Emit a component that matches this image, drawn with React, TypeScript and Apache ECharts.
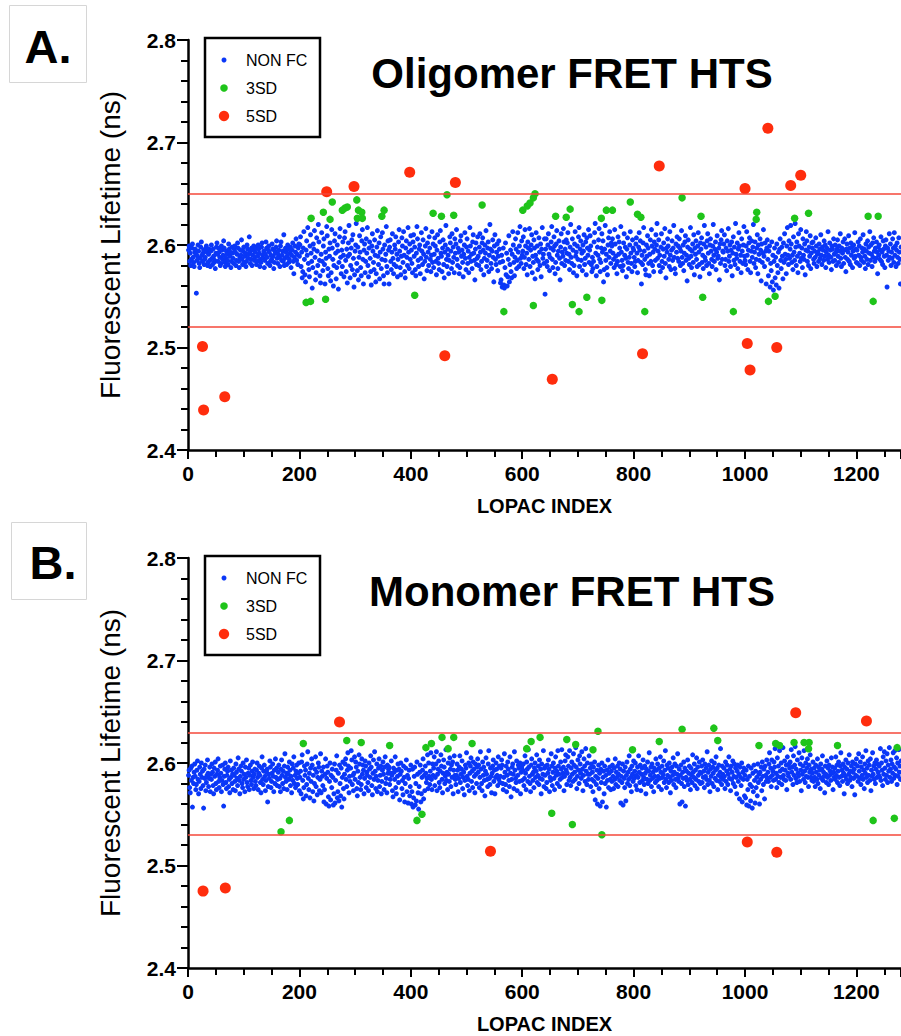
import React, { useEffect, useRef } from "react";
import * as echarts from "echarts";

const FONT = "'Liberation Sans', Arial, Helvetica, sans-serif";

// Axis settings (values)
const xMin = 0;
const xMax = 1280;
const xInterval = 200;
const yMin = 2.4;
const yMax = 2.8;
const yInterval = 0.1;

// NON FC lifetimes, in thousandths of a ns above 2.5 (index = position + 1)
const blueA: number[] = [
  95,99,84,92,80,86,97,101,88,83,79,93,96,91,53,85,89,100,94,82,78,87,98,103,90,84,92,95,81,86,88,97,99,93,80,83,91,96,85,79,
  94,100,87,81,96,89,83,85,77,92,98,102,91,84,97,93,88,80,82,99,95,86,90,104,97,83,79,87,94,91,85,81,101,96,89,93,78,84,98,92,
  87,82,96,99,93,80,85,91,102,97,84,78,88,95,90,105,86,81,94,98,83,89,92,79,84,100,96,87,91,108,93,82,86,97,80,90,95,99,85,88,
  93,97,81,84,89,100,96,92,79,86,83,98,102,90,87,94,78,85,91,103,97,88,82,95,99,93,80,84,90,86,101,96,89,77,83,94,92,98,104,87,
  82,91,95,88,79,99,103,85,90,94,84,110,80,87,97,93,81,89,100,96,83,86,92,98,78,90,95,102,84,72,88,99,93,106,85,91,81,97,101,89,
  100,108,79,93,68,74,97,113,86,71,64,95,104,90,117,82,76,69,99,110,92,84,58,78,101,96,114,88,66,73,107,94,80,120,103,85,70,63,91,112,
  84,75,99,106,81,62,93,87,118,109,77,70,96,89,102,65,73,115,97,86,60,80,104,111,92,67,78,100,94,57,83,108,116,88,72,95,79,103,90,69,
  107,113,85,74,96,63,89,102,119,91,68,80,97,105,76,110,87,59,71,94,100,121,82,75,98,66,88,109,93,78,70,104,115,86,62,95,101,73,84,106,
  92,117,80,69,97,103,87,74,61,99,111,94,83,76,105,90,64,72,98,114,89,81,102,67,93,108,77,86,112,96,70,62,100,85,91,118,79,73,104,95,
  62,98,105,84,76,93,111,87,72,81,100,96,108,79,91,69,86,103,115,94,78,71,89,107,99,83,113,90,74,68,97,104,88,80,117,93,77,101,86,109,
  95,82,73,103,110,89,98,76,70,92,118,106,85,79,96,100,72,87,112,94,81,105,91,67,84,99,116,88,75,102,93,80,108,97,86,74,90,113,83,101,
  78,91,107,99,84,71,95,110,87,82,76,103,114,92,89,74,97,105,81,68,93,100,119,86,79,96,90,72,85,108,102,94,77,111,83,98,88,73,106,92,
  101,115,86,80,97,93,72,78,104,109,89,95,83,69,91,100,112,87,76,98,106,82,94,73,88,117,99,84,91,77,103,110,92,85,66,96,102,81,87,108,
  89,80,98,111,93,76,84,102,107,95,71,87,100,92,114,79,85,97,103,74,90,120,96,82,77,94,105,88,64,99,110,86,81,93,101,75,89,104,96,83,
  63,66,90,59,84,97,61,58,78,102,71,92,60,69,86,109,64,81,95,74,68,91,113,100,83,70,88,106,96,77,85,112,93,79,99,118,87,82,104,90,
  94,108,77,88,115,99,81,92,71,103,97,86,116,79,95,100,110,73,89,83,105,97,67,90,112,86,99,76,84,107,93,80,101,69,96,117,87,91,82,106,
  52,96,106,84,79,100,111,91,75,88,97,103,118,86,78,95,108,99,72,83,101,114,90,77,94,104,87,66,98,111,82,93,89,116,103,80,96,85,105,92,
  102,112,84,91,76,98,120,88,82,106,95,73,80,101,113,89,93,70,99,86,108,117,79,96,104,85,92,75,100,94,110,81,87,103,71,107,97,90,115,83,
  95,109,99,81,74,88,77,84,103,112,121,92,70,79,98,90,105,116,86,74,83,97,111,93,104,64,76,96,119,85,91,78,71,100,107,88,113,94,82,102,
  99,106,92,86,78,115,101,89,81,72,84,108,91,103,97,79,118,93,85,75,80,102,111,90,98,87,69,96,107,83,77,88,100,113,92,82,74,105,97,95,
  88,79,84,101,107,92,73,85,98,112,95,104,83,62,90,81,102,117,94,86,76,71,100,89,109,97,82,70,91,105,84,115,99,80,93,74,103,96,85,110,
  100,121,87,94,105,80,90,74,98,111,84,78,96,102,89,116,82,68,97,93,106,99,86,79,113,90,76,95,104,85,97,119,88,77,72,101,93,108,87,99,
  84,106,97,80,94,114,88,82,100,75,92,103,109,85,90,65,98,105,87,81,96,117,89,78,94,101,83,110,71,97,91,104,86,79,99,112,93,81,69,102,
  96,107,83,90,77,101,119,88,85,98,80,104,111,92,82,72,100,106,94,86,79,99,120,90,84,96,103,76,93,109,87,89,97,66,101,82,105,114,86,94,
  93,101,110,80,86,97,75,104,94,116,84,89,100,79,95,103,70,92,108,85,98,81,121,91,87,102,77,96,112,99,84,90,73,106,94,82,100,118,89,85,
  81,99,113,90,76,95,102,107,84,73,94,104,88,98,120,82,93,103,78,86,97,110,72,100,91,85,106,95,65,101,83,92,115,89,79,102,94,62,97,105,
  86,70,94,99,59,82,75,103,64,90,56,84,97,68,88,61,101,80,73,93,58,96,106,85,77,98,89,67,102,83,111,91,86,72,99,117,90,81,104,87,
  96,119,101,83,90,76,108,93,85,121,98,80,103,89,73,111,99,92,84,115,87,97,78,106,90,86,101,71,95,113,104,84,94,80,98,89,109,77,92,102,
  97,103,86,82,94,88,107,99,79,91,93,84,101,96,87,110,90,81,98,95,85,104,89,100,78,93,97,86,113,90,83,102,95,88,76,99,96,84,106,91,
  85,100,93,80,96,105,89,83,99,94,111,87,79,97,92,103,82,95,106,88,74,96,101,86,93,109,84,97,81,102,90,98,78,94,100,87,112,89,96,83,
  95,82,103,90,99,80,106,88,85,97,93,110,83,96,89,77,101,94,86,104,81,98,92,113,85,100,91,79,102,88,107,94,84,97,87,103,93,72,98,90,
  100,86,95,108,84,93,81,104,96,89,78,99,105,90,59,97,85,94,111,88,101,80,93,87,106,97,83,112,90,99,79,95,102,88,82,107,93,86,62,98,
];

const greenA: [number, number][] = [
  [212, 2.544], [220, 2.545], [221, 2.626], [243, 2.632], [247, 2.547], [255, 2.625], [259, 2.642],
  [277, 2.634], [282, 2.636], [286, 2.637], [303, 2.644], [304, 2.626], [306, 2.634], [312, 2.632],
  [313, 2.626], [348, 2.628], [352, 2.634], [407, 2.551], [440, 2.631], [455, 2.628], [465, 2.649],
  [477, 2.629], [528, 2.639], [567, 2.535], [601, 2.634], [609, 2.638], [614, 2.641], [620, 2.646],
  [620, 2.541], [623, 2.65], [660, 2.628], [679, 2.627], [686, 2.635], [690, 2.542], [702, 2.535],
  [716, 2.549], [742, 2.626], [743, 2.546], [751, 2.634], [762, 2.634], [794, 2.642], [807, 2.63],
  [813, 2.627], [820, 2.535], [887, 2.646], [921, 2.628], [924, 2.549], [979, 2.535], [1020, 2.625],
  [1021, 2.632], [1042, 2.545], [1054, 2.55], [1089, 2.626], [1114, 2.631], [1221, 2.628],
  [1230, 2.545], [1239, 2.628],
];

const redA: [number, number][] = [
  [26, 2.501], [28, 2.439], [66, 2.452], [249, 2.652], [298, 2.657], [398, 2.671], [461, 2.492],
  [480, 2.661], [654, 2.469], [816, 2.494], [846, 2.677], [1000, 2.655], [1004, 2.504],
  [1009, 2.478], [1041, 2.714], [1057, 2.5], [1082, 2.658], [1100, 2.668],
];

const thresholdsA = [2.65, 2.525];

const blueB: number[] = [
  88,93,76,71,95,83,97,57,86,80,91,99,87,74,79,93,102,84,70,82,96,89,75,100,86,92,78,56,94,85,98,73,81,88,103,90,77,85,96,72,
  89,84,99,91,78,70,95,87,101,80,74,89,93,104,82,76,86,97,90,72,83,98,79,58,87,94,100,81,75,88,92,96,77,84,71,102,86,93,80,89,
  74,95,88,82,73,99,91,85,78,105,94,83,70,87,97,92,80,76,100,84,89,72,96,86,103,81,77,90,95,74,88,98,83,79,92,101,86,75,89,94,
  82,78,93,100,86,74,90,97,88,81,71,95,106,84,79,92,98,87,73,83,91,94,62,77,89,85,102,96,76,82,90,99,87,72,93,80,104,86,95,78,
  84,91,98,77,85,72,94,103,88,80,92,75,97,109,86,82,90,74,96,89,84,101,93,78,87,71,99,83,95,106,80,88,76,92,98,85,79,90,100,73,
  86,92,70,101,108,83,65,76,97,88,93,68,79,99,111,85,74,90,66,95,82,104,98,72,88,63,80,94,106,77,91,69,86,100,96,73,84,109,71,92,
  87,78,96,62,74,89,104,60,85,97,91,67,58,82,100,64,88,76,94,86,59,70,99,61,83,93,107,66,72,90,63,98,80,68,95,57,86,101,75,65,
  89,99,104,84,77,93,110,97,71,87,82,95,112,103,79,88,73,90,106,84,101,96,75,68,92,81,108,99,86,74,79,104,89,98,93,70,85,102,97,76,
  91,88,81,73,100,94,86,107,96,78,69,90,103,84,111,92,75,87,99,72,83,95,104,77,88,97,70,82,93,101,89,74,96,106,80,85,71,98,90,94,
  96,79,84,90,102,88,73,67,95,91,84,106,76,70,93,87,99,81,94,64,89,100,92,75,83,69,97,86,62,80,95,103,72,88,61,85,93,68,77,98,
  60,72,94,57,66,87,96,59,80,63,101,89,71,55,77,91,98,62,70,86,93,104,65,88,73,97,90,81,85,108,75,100,87,79,92,110,84,74,99,88,
  95,106,78,86,99,111,73,89,94,102,81,76,92,108,97,84,71,90,103,96,80,87,113,83,91,74,100,89,82,105,94,77,98,86,101,70,93,107,88,84,
  79,88,99,93,72,85,96,107,81,89,94,102,75,86,91,69,83,98,95,110,87,78,84,100,73,90,97,105,82,92,76,101,94,87,71,99,89,80,96,104,
  91,98,76,86,111,94,80,73,101,88,96,83,68,92,105,89,84,77,99,112,85,79,95,87,71,90,97,103,82,93,70,86,100,94,88,78,106,84,97,81,
  87,95,103,98,80,74,86,109,91,79,97,72,88,101,94,83,77,106,90,67,84,96,99,89,75,111,93,85,81,102,73,88,98,95,82,100,70,91,96,83,
  93,99,78,85,107,90,74,101,94,82,113,96,87,80,72,98,104,89,83,91,76,95,100,86,92,108,81,88,97,79,103,85,94,70,99,84,89,112,77,95,
  88,97,75,81,98,90,103,94,72,86,83,109,97,78,91,100,85,74,95,106,88,92,80,112,97,89,77,84,101,94,113,86,90,96,73,87,102,108,93,79,
  90,106,97,83,112,86,78,95,101,89,82,109,98,91,84,115,96,75,87,103,93,80,107,99,90,85,111,94,73,88,104,97,82,114,92,79,100,89,84,107,
  89,95,77,99,84,91,72,96,82,101,64,87,79,93,60,85,98,75,90,58,94,81,100,62,86,92,70,97,80,88,57,93,83,103,76,90,96,84,74,92,
  82,98,87,75,95,84,104,79,91,86,97,77,89,100,83,94,61,87,81,99,59,92,85,76,96,63,88,101,80,91,84,107,78,94,86,72,97,89,82,102,
  85,92,100,78,88,74,96,86,107,91,81,98,73,89,95,83,103,86,79,97,90,70,94,84,101,80,92,110,83,88,96,77,99,85,91,72,95,87,81,104,
  93,83,99,87,77,95,85,106,91,74,97,86,89,102,81,93,112,84,76,98,88,95,81,100,86,71,92,83,96,88,105,79,91,99,84,76,97,89,109,85,
  82,94,60,88,98,80,62,91,85,101,77,95,58,86,92,83,103,79,90,97,84,74,95,88,81,108,91,86,99,78,93,84,105,75,96,88,82,101,91,80,
  90,97,81,103,86,92,76,99,87,95,84,111,79,91,98,83,72,94,87,102,80,96,90,77,100,85,93,106,83,95,74,88,98,82,91,114,86,79,97,89,
  84,95,87,75,101,82,92,98,79,89,106,85,94,73,97,84,91,102,80,87,99,77,95,86,70,92,98,82,89,65,96,86,78,100,62,91,84,95,68,88,
  66,93,59,84,74,97,58,87,79,63,95,77,56,90,72,98,83,61,92,76,86,68,99,81,89,60,91,84,96,73,101,87,79,94,65,97,88,82,103,85,
  91,82,99,110,86,95,77,103,88,92,83,101,96,114,84,90,76,105,87,97,81,112,92,86,100,79,94,115,88,84,102,93,83,98,74,106,90,87,99,95,
  101,84,113,91,96,79,107,88,98,116,85,94,81,103,90,87,110,82,99,93,73,105,89,97,84,112,92,81,100,87,95,104,86,77,98,91,108,86,94,83,
  90,101,82,95,86,77,98,91,84,104,80,96,88,93,75,99,85,94,107,83,91,87,71,97,89,81,102,86,95,79,98,88,92,83,105,90,96,74,91,86,
  95,84,106,88,98,81,92,101,86,78,97,110,87,93,82,99,90,70,96,87,103,84,94,80,100,89,108,83,92,86,97,77,101,91,85,94,69,99,88,104,
  87,97,82,109,92,85,101,79,96,88,106,84,93,75,99,90,112,86,95,81,102,88,98,83,104,73,93,87,110,89,97,84,100,80,94,103,86,99,91,88,
  97,86,114,83,100,93,78,106,89,111,95,84,102,88,109,81,98,92,115,86,94,103,82,99,90,110,85,96,112,88,94,105,79,100,87,113,91,97,84,102,
];

const greenB: [number, number][] = [
  [167, 2.533], [182, 2.544], [207, 2.619], [285, 2.622], [311, 2.62], [362, 2.617], [411, 2.544],
  [420, 2.55], [427, 2.615], [437, 2.619], [456, 2.625], [467, 2.614], [477, 2.625], [510, 2.619],
  [608, 2.614], [616, 2.621], [632, 2.625], [653, 2.551], [680, 2.623], [690, 2.54], [696, 2.618],
  [727, 2.613], [736, 2.631], [743, 2.53], [798, 2.613], [846, 2.621], [887, 2.633], [944, 2.634],
  [951, 2.622], [1025, 2.617], [1055, 2.619], [1062, 2.617], [1088, 2.62], [1106, 2.62],
  [1114, 2.614], [1115, 2.62], [1166, 2.617], [1230, 2.544], [1268, 2.546], [1273, 2.615],
];

const redB: [number, number][] = [
  [27, 2.475], [67, 2.478], [272, 2.64], [543, 2.514], [1004, 2.523], [1057, 2.513], [1091, 2.649],
  [1218, 2.641],
];

const thresholdsB = [2.634, 2.53];

const titles = ["Oligomer FRET HTS", "Monomer FRET HTS"];
const panelLetters = ["A.", "B."];
const seriesNames = ["NON FC", "3SD", "5SD"];
const xAxisName = "LOPAC INDEX";
const yAxisName = "Fluorescent Lifetime (ns)";

const BLUE = "#0a37f7";
const GREEN = "#1fc41a";
const RED = "#ff2d0d";
const LINE_RED = "#f4473a";

const GRID_LEFT = 188;
const GRID_W = 717;
const GRID_H = 410;
const GRID_TOPS = [40, 558];

const boldRich = {
  b: { fontFamily: FONT, fontWeight: "bold", fontSize: 21, color: "#000" },
};

function App() {
  const ref = useRef<HTMLDivElement>(null);

  useEffect(() => {
    if (!ref.current) return;
    const chart = echarts.init(ref.current, null, { renderer: "svg" });

    const panels = [
      { blue: blueA, green: greenA, red: redA, th: thresholdsA },
      { blue: blueB, green: greenB, red: redB, th: thresholdsB },
    ];

    const grid = GRID_TOPS.map((t) => ({
      left: GRID_LEFT,
      top: t,
      width: GRID_W,
      height: GRID_H,
      containLabel: false,
    }));

    const xAxis = GRID_TOPS.map((_, i) => ({
      type: "value",
      gridIndex: i,
      min: xMin,
      max: xMax,
      interval: xInterval,
      name: xAxisName,
      nameLocation: "middle",
      nameGap: 46,
      nameTextStyle: { fontFamily: FONT, fontWeight: "bold", fontSize: 20, color: "#000" },
      axisLine: { show: true, onZero: false, lineStyle: { color: "#000", width: 2.5 } },
      axisTick: { show: true, length: 9, lineStyle: { color: "#000", width: 2 } },
      minorTick: { show: true, splitNumber: 4, length: 7, lineStyle: { color: "#000", width: 2 } },
      splitLine: { show: false },
      axisLabel: {
        color: "#000",
        fontFamily: FONT,
        fontWeight: "bold",
        fontSize: 21,
        margin: 13,
        showMaxLabel: false,
        formatter: (v: number) => "{b|" + String(Math.round(v)) + "}",
        rich: boldRich,
      },
    }));

    const yAxis = GRID_TOPS.map((_, i) => ({
      type: "value",
      gridIndex: i,
      min: yMin,
      max: yMax,
      interval: yInterval,
      name: yAxisName,
      nameLocation: "middle",
      nameGap: 64,
      nameRotate: 90,
      nameTextStyle: { fontFamily: FONT, fontWeight: "normal", fontSize: 28, color: "#000" },
      axisLine: { show: true, onZero: false, lineStyle: { color: "#000", width: 2.5 } },
      axisTick: { show: true, length: 11, lineStyle: { color: "#000", width: 2 } },
      minorTick: { show: true, splitNumber: 5, length: 7, lineStyle: { color: "#000", width: 2 } },
      splitLine: { show: false },
      axisLabel: {
        color: "#000",
        fontFamily: FONT,
        fontWeight: "bold",
        fontSize: 21,
        margin: 12,
        formatter: (v: number) => "{b|" + v.toFixed(1) + "}",
        rich: boldRich,
      },
    }));

    const series: any[] = [];
    panels.forEach((p, i) => {
      series.push({
        name: seriesNames[0],
        type: "scatter",
        xAxisIndex: i,
        yAxisIndex: i,
        symbol: "circle",
        symbolSize: 5,
        itemStyle: { color: BLUE, opacity: 1 },
        data: p.blue.map((v, k) => [k + 1, 2.5 + v / 1000]),
        markLine: {
          silent: true,
          symbol: "none",
          label: { show: false },
          lineStyle: { color: LINE_RED, width: 1.5, type: "solid" },
          data: p.th.map((y) => ({ yAxis: y })),
        },
        z: 2,
      });
      series.push({
        name: seriesNames[1],
        type: "scatter",
        xAxisIndex: i,
        yAxisIndex: i,
        symbol: "circle",
        symbolSize: 7.5,
        itemStyle: { color: GREEN, opacity: 1 },
        data: p.green,
        z: 3,
      });
      series.push({
        name: seriesNames[2],
        type: "scatter",
        xAxisIndex: i,
        yAxisIndex: i,
        symbol: "circle",
        symbolSize: 11,
        itemStyle: { color: RED, opacity: 1 },
        data: p.red,
        z: 4,
      });
    });

    const graphic: any[] = [];
    const letterBoxes = [
      { x: 9.5, y: 5.5, w: 77, h: 77, tx: 48, ty: 46 },
      { x: 11.5, y: 522.5, w: 75, h: 77, tx: 53, ty: 562 },
    ];
    letterBoxes.forEach((b, i) => {
      graphic.push({
        type: "rect",
        shape: { x: b.x, y: b.y, width: b.w, height: b.h },
        style: { fill: "#fff", stroke: "#d6d6d6", lineWidth: 1 },
      });
      graphic.push({
        type: "text",
        x: b.tx,
        y: b.ty,
        style: {
          text: panelLetters[i],
          fontFamily: FONT,
          fontWeight: "bold",
          fontSize: 47,
          fill: "#000",
          align: "center",
          verticalAlign: "middle",
        },
      });
    });

    GRID_TOPS.forEach((t, i) => {
      graphic.push({
        type: "text",
        x: 572,
        y: t + 33,
        style: {
          text: titles[i],
          fontFamily: FONT,
          fontWeight: "bold",
          fontSize: 42,
          fill: "#000",
          align: "center",
          verticalAlign: "middle",
        },
      });
      const ly = t - 2;
      graphic.push({
        type: "rect",
        shape: { x: 205, y: ly, width: 115, height: 99 },
        style: { fill: "#fff", stroke: "#000", lineWidth: 2.5 },
        z: 10,
      });
      const colors = [BLUE, GREEN, RED];
      const radii = [2.5, 3.8, 5.2];
      const offs = [22, 50, 78];
      offs.forEach((o, k) => {
        graphic.push({
          type: "circle",
          shape: { cx: 224, cy: ly + o, r: radii[k] },
          style: { fill: colors[k] },
          z: 11,
        });
        graphic.push({
          type: "text",
          x: 246,
          y: ly + o,
          style: {
            text: seriesNames[k],
            fontFamily: FONT,
            fontWeight: "normal",
            fontSize: 16,
            fill: "#000",
            align: "left",
            verticalAlign: "middle",
          },
          z: 11,
        });
      });
    });

    chart.setOption({
      animation: false,
      backgroundColor: "#fff",
      textStyle: { fontFamily: FONT },
      grid,
      xAxis,
      yAxis,
      series,
      graphic,
    });

    return () => chart.dispose();
  }, []);

  return (
    <div
      ref={ref}
      style={{ position: "fixed", left: 0, top: 0, width: 901, height: 1036, background: "#fff" }}
    />
  );
}

export default App;
